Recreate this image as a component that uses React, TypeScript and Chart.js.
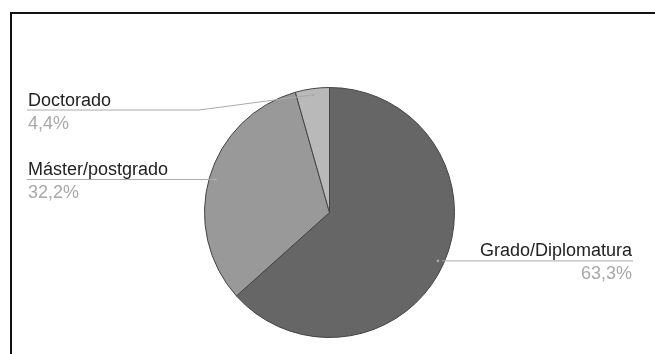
import React, { useEffect, useRef } from "react";
import { Chart, registerables } from "chart.js";

Chart.register(...registerables);

const categories = ["Grado/Diplomatura", "Máster/postgrado", "Doctorado"];
const values = [63.3, 32.2, 4.4];
const sliceColors = ["#666666", "#999999", "#b9b9b9"];

const FONT = "18px 'Liberation Sans', Arial, sans-serif";

const labelPlugin = {
  id: "outLabels",
  afterDatasetsDraw(chart: any) {
    const ctx = chart.ctx as CanvasRenderingContext2D;
    const meta = chart.getDatasetMeta(0);
    const area = chart.chartArea;
    const W = chart.width;
    ctx.save();
    meta.data.forEach((arc: any, i: number) => {
      const p = arc.getProps(["x", "y", "startAngle", "endAngle", "outerRadius"], true);
      const mid = (p.startAngle + p.endAngle) / 2;
      const r = p.outerRadius * 0.95;
      const px = p.x + Math.cos(mid) * r;
      const py = p.y + Math.sin(mid) * r;
      const left = px < p.x;
      const lineY = Math.max(py, area.top + 23);
      ctx.strokeStyle = "#aaaaaa";
      ctx.lineWidth = 1;
      ctx.fillStyle = "#aaaaaa";
      ctx.beginPath();
      ctx.arc(px, py, 1.3, 0, Math.PI * 2);
      ctx.fill();
      ctx.beginPath();
      if (left) {
        const bendX = Math.min(px, area.left - 5);
        ctx.moveTo(px, py);
        ctx.lineTo(bendX, lineY);
        ctx.lineTo(27, lineY);
      } else {
        ctx.moveTo(px + 4, lineY);
        ctx.lineTo(W - 22, lineY);
      }
      ctx.stroke();
      ctx.font = FONT;
      ctx.textBaseline = "alphabetic";
      ctx.textAlign = left ? "left" : "right";
      const tx = left ? 28 : W - 23;
      ctx.fillStyle = "#222222";
      ctx.fillText(categories[i], tx, lineY - 4.5);
      ctx.fillStyle = "#a8a8a8";
      ctx.fillText(values[i].toFixed(1).replace(".", ",") + "%", tx, lineY + 18.5);
    });
    ctx.restore();
  },
};

export default function App() {
  const ref = useRef<HTMLCanvasElement | null>(null);
  useEffect(() => {
    if (!ref.current) return;
    const chart = new Chart(ref.current, {
      type: "pie",
      data: {
        labels: categories,
        datasets: [
          {
            data: values,
            backgroundColor: sliceColors,
            borderColor: "#444444",
            borderWidth: 1,
          },
        ],
      },
      options: {
        animation: false,
        responsive: false,
        layout: { padding: { left: 204, right: 200, top: 87, bottom: 16 } },
        plugins: {
          legend: { display: false },
          tooltip: { enabled: false },
        },
      },
      plugins: [labelPlugin],
    });
    return () => chart.destroy();
  }, []);
  return (
    <div style={{ position: "fixed", left: 0, top: 0, width: 655, height: 354, background: "#fff", overflow: "hidden" }}>
      <div
        style={{
          position: "absolute",
          left: 10,
          top: 12,
          width: 800,
          height: 500,
          borderTop: "2px solid #111",
          borderLeft: "2px solid #111",
          boxSizing: "border-box",
        }}
      />
      <canvas ref={ref} width={655} height={354} style={{ position: "absolute", left: 0, top: 0, width: 655, height: 354 }} />
    </div>
  );
}
